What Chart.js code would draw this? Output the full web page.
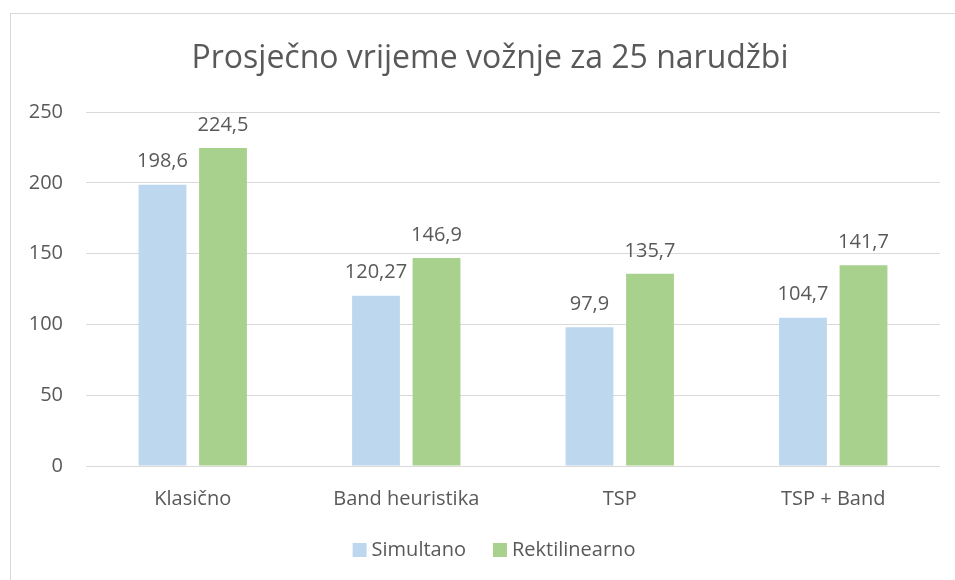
<!DOCTYPE html>
<html lang="hr">
<head>
<meta charset="UTF-8">
<title>Prosječno vrijeme vožnje za 25 narudžbi</title>
<script src="https://cdn.jsdelivr.net/npm/chart.js"></script>
<style>
    html, body { margin: 0; padding: 0; background: #fff; }
</style>
</head>
<body>
<canvas id="chart" width="955" height="580"></canvas>
<script>
// data
const categories = ['Klasično', 'Band heuristika', 'TSP', 'TSP + Band'];
const simultano = [198.6, 120.27, 97.9, 104.7];
const rektilinearno = [224.5, 146.9, 135.7, 141.7];
const seriesNames = ['Simultano', 'Rektilinearno'];
const chartTitle = 'Prosječno vrijeme vožnje za 25 narudžbi';
const yMin = 0, yMax = 250, yStep = 50;

const textColor = '#595959';
const gridColor = '#d9d9d9';
const fontFamily = '"Open Sans", "Noto Sans", sans-serif';

// comma as decimal separator
function fmt(v) {
    return String(v).replace('.', ',');
}

const decor = {
    id: 'decor',
    beforeDraw(chart) {
        const ctx = chart.ctx;
        ctx.save();
        ctx.fillStyle = '#fff';
        ctx.fillRect(0, 0, chart.width, chart.height);
        ctx.strokeStyle = gridColor;
        ctx.lineWidth = 1;
        ctx.strokeRect(10.5, 13.5, 980, 600);
        ctx.restore();
    },
    afterDatasetsDraw(chart) {
        const ctx = chart.ctx;
        ctx.save();
        ctx.font = '20px ' + fontFamily;
        ctx.fillStyle = textColor;
        ctx.textAlign = 'center';
        ctx.textBaseline = 'middle';
        chart.data.datasets.forEach((ds, i) => {
            chart.getDatasetMeta(i).data.forEach((bar, j) => {
                ctx.fillText(fmt(ds.data[j]), bar.x, bar.y - 23);
            });
        });
        ctx.restore();
    },
    afterDraw(chart) {
        const ctx = chart.ctx;
        ctx.save();
        // title
        ctx.font = '32px ' + fontFamily;
        ctx.fillStyle = textColor;
        ctx.textAlign = 'center';
        ctx.textBaseline = 'middle';
        ctx.fillText(chartTitle, 490, 59);

        // legend
        ctx.font = '20px ' + fontFamily;
        const box = 14, gap = 5, itemGap = 27;
        const items = chart.data.datasets.map(ds => ({
            label: ds.label, color: ds.backgroundColor, w: ctx.measureText(ds.label).width
        }));
        let total = 0;
        items.forEach((it, k) => { total += box + gap + it.w + (k ? itemGap : 0); });
        let x = 494 - total / 2;
        const cy = 550;
        ctx.textAlign = 'left';
        items.forEach(it => {
            ctx.fillStyle = it.color;
            ctx.fillRect(x, cy - box / 2, box, box);
            ctx.fillStyle = textColor;
            ctx.fillText(it.label, x + box + gap, cy);
            x += box + gap + it.w + itemGap;
        });
        ctx.restore();
    }
};

new Chart(document.getElementById('chart'), {
    type: 'bar',
    data: {
        labels: categories,
        datasets: [
            { label: seriesNames[0], data: simultano, backgroundColor: '#bdd7ee' },
            { label: seriesNames[1], data: rektilinearno, backgroundColor: '#a9d18e' }
        ]
    },
    options: {
        responsive: false,
        animation: false,
        events: [],
        categoryPercentage: 0.567,
        barPercentage: 0.79,
        layout: { padding: { top: 112, right: 15, left: 0, bottom: 0 } },
        plugins: {
            legend: { display: false },
            title: { display: false },
            tooltip: { enabled: false }
        },
        scales: {
            x: {
                grid: { display: false },
                border: { display: false },
                ticks: { color: textColor, font: { family: fontFamily, size: 20 }, padding: 13 },
                afterFit(scale) { scale.height = 114; }
            },
            y: {
                min: yMin,
                max: yMax,
                grid: { color: gridColor, drawTicks: false },
                border: { display: false },
                ticks: { stepSize: yStep, color: textColor, font: { family: fontFamily, size: 20 }, padding: 23 },
                afterFit(scale) { scale.width = 86; }
            }
        }
    },
    plugins: [decor]
});
</script>
</body>
</html>
